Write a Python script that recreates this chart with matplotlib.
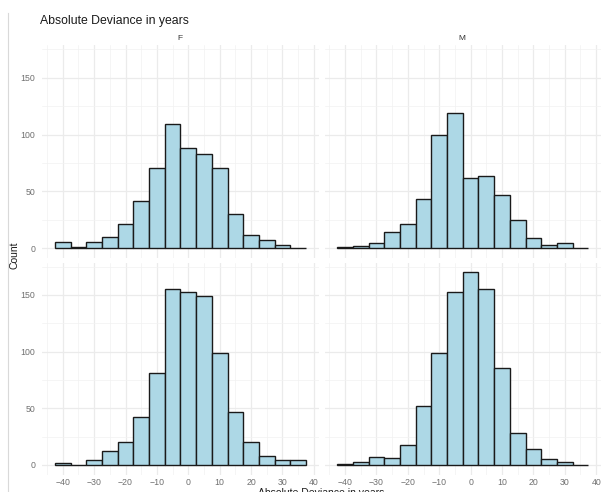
import numpy as np
import matplotlib
matplotlib.use("Agg")
import matplotlib.pyplot as plt
from matplotlib.ticker import MultipleLocator

plt.rcParams['font.family'] = ['Liberation Sans', 'DejaVu Sans']

# bin centres (width 5 years)
bins = [-40, -35, -30, -25, -20, -15, -10, -5, 0, 5, 10, 15, 20, 25, 30, 35]

# counts per bin, one list per panel
top_f = [6, 1, 6, 10, 21, 42, 71, 109, 88, 83, 71, 30, 12, 7, 3, 0]
top_m = [1, 2, 5, 14, 21, 43, 100, 119, 62, 64, 47, 25, 9, 3, 5, 0]
bottom_f = [2, 0, 4, 12, 20, 42, 81, 155, 153, 149, 99, 47, 20, 8, 4, 4]
bottom_m = [1, 3, 7, 6, 18, 52, 99, 153, 170, 155, 86, 28, 14, 5, 3, 0]

x_ticks = [-40, -30, -20, -10, 0, 10, 20, 30, 40]
y_ticks = [0, 50, 100, 150]

W, H = 606, 492
fig = plt.figure(figsize=(W / 100, H / 100), dpi=100)
fig.patch.set_facecolor('white')


def px_axes(x0, y0, x1, y1):
    return fig.add_axes([x0 / W, 1 - y1 / H, (x1 - x0) / W, (y1 - y0) / H])


panels = [
    (top_f, (42.3, 45.3, 318.6, 258.0), True, False),
    (top_m, (324.6, 45.3, 600.9, 258.0), False, False),
    (bottom_f, (42.3, 262.7, 318.6, 474.6), True, True),
    (bottom_m, (324.6, 262.7, 600.9, 474.6), False, True),
]

for counts, box, show_y, show_x in panels:
    ax = px_axes(*box)
    ax.set_xlim(-46.5, 41.5)
    ax.set_ylim(-8.5, 178.5)
    ax.xaxis.set_minor_locator(MultipleLocator(5))
    ax.yaxis.set_minor_locator(MultipleLocator(25))
    ax.set_yticks(y_ticks)
    ax.set_xticks(x_ticks)
    ax.grid(which='major', color='#EBEBEB', linewidth=0.9)
    ax.grid(which='minor', color='#F2F2F2', linewidth=0.5)
    ax.set_axisbelow(True)
    for s in ax.spines.values():
        s.set_visible(False)
    ax.tick_params(which='both', length=0, colors='#707070', labelsize=6.3)
    ax.tick_params(axis='x', pad=2.5)
    ax.tick_params(axis='y', pad=5)
    if not show_y:
        ax.set_yticklabels([])
    if not show_x:
        ax.set_xticklabels([])
    ax.bar(bins, counts, width=5, color='#ADD8E6', edgecolor='#1A1A1A', linewidth=1.0)

fig.text(40 / W, 1 - 21 / H, 'Absolute Deviance in years', fontsize=8.8,
         color='#1A1A1A', va='center', ha='left')
fig.text(180 / W, 1 - 38 / H, 'F', fontsize=6, color='#333333', ha='center', va='center')
fig.text(462 / W, 1 - 38 / H, 'M', fontsize=6, color='#333333', ha='center', va='center')
fig.text(15 / W, 1 - 255 / H, 'Count', fontsize=7.5, rotation=90,
         color='#1A1A1A', ha='center', va='center')
fig.text(321 / W, 1 - 488.5 / H, 'Absolute Deviance in years', fontsize=7.5,
         color='#1A1A1A', ha='center', va='top')

# thin border line on the left
fig.add_artist(plt.Line2D([8 / W, 8 / W], [0, 1 - 13 / H], color='#D9D9D9', linewidth=0.8))

fig.savefig('out.png', dpi=100)
